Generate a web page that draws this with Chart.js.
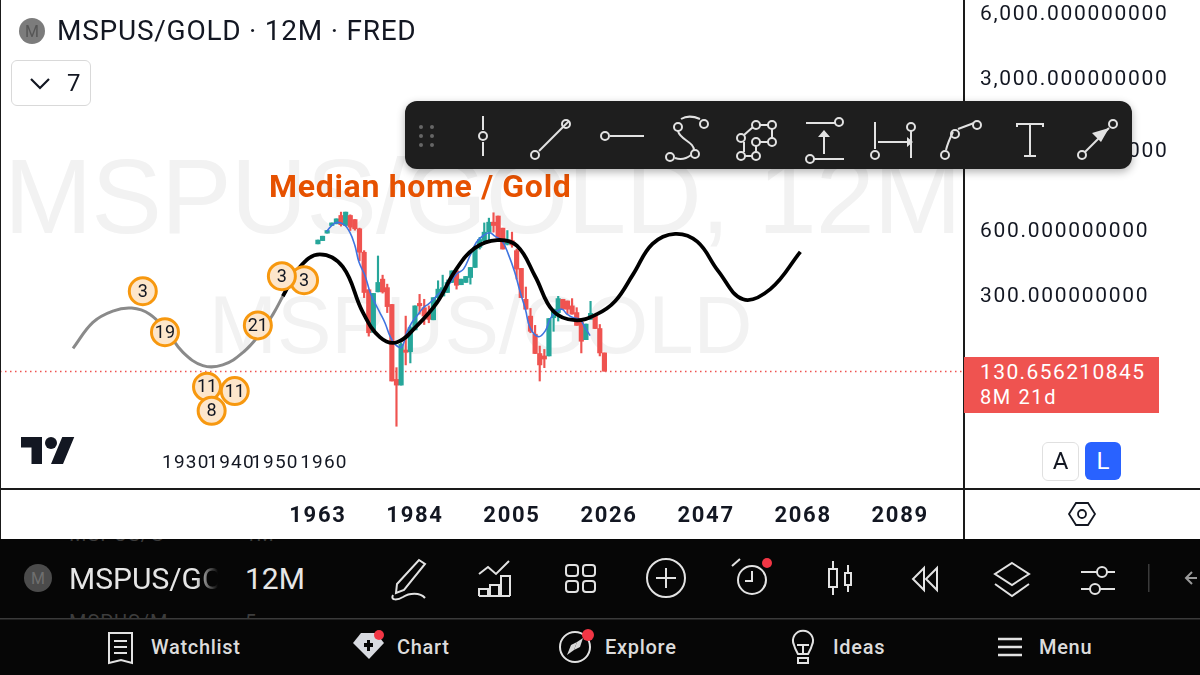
<!DOCTYPE html>
<html>
<head>
<meta charset="utf-8">
<title>MSPUS/GOLD</title>
<script src="https://cdn.jsdelivr.net/npm/chart.js@4"></script>
<style>
  html, body { margin: 0; padding: 0; background: #fff; }
  #page { position: relative; width: 1200px; height: 675px; overflow: hidden; font-family: Roboto, sans-serif; color: #131722; }
  #page > * { position: absolute; }
  canvas { left: 0; top: 0; }
  .mark { font-family: "Liberation Sans", sans-serif; color: #f2f2f2; white-space: nowrap; }
  .line { background: #1a1a1a; }
  #toolbar { left: 405px; top: 101px; width: 727px; height: 68px; background: #1e1e1e; border-radius: 12px; box-shadow: 0 3px 8px rgba(0,0,0,.3); }
  svg { position: absolute; overflow: visible; }
  .ic { fill: none; stroke: #e2e2e2; stroke-width: 2; }
  .dk { position: absolute; white-space: nowrap; color: #e6e6e6; }
  .tab { font-size: 20px; letter-spacing: .7px; top: 635px; font-weight: 500; color: #dcdcdc; }
</style>
</head>
<body>
<div id="page">
  <div class="mark" style="left:4px;top:126px;font-size:106px;line-height:140px;letter-spacing:-1px">MSPUS/GOLD, 12M</div>
  <div class="mark" style="left:209px;top:272px;font-size:81.5px;line-height:106px">MSPUS/GOLD</div>

  <canvas id="chart" width="1200" height="539" style="width:1200px;height:539px"></canvas>

  <div class="line" style="left:0;top:0;width:1px;height:539px"></div>
  <div class="line" style="left:963px;top:0;width:2px;height:539px"></div>
  <div class="line" style="left:0;top:488px;width:1200px;height:2px"></div>

  <svg style="left:21px;top:431px" width="54" height="42" viewBox="0 0 36 28"><path d="M14 22H7V11H0V4h14v18zM28 22h-8l7.5-18h8L28 22z" fill="#131722"/><circle cx="20" cy="8" r="4" fill="#131722"/></svg>

  <svg style="left:19px;top:18px" width="26" height="26"><circle cx="13" cy="13" r="13" fill="#7c7c7c"/><text x="13" y="19" text-anchor="middle" font-size="16" fill="#555">M</text></svg>
  <div style="left:57px;top:13px;font-size:28px;line-height:36px;letter-spacing:.75px;white-space:nowrap">MSPUS/GOLD · 12M · FRED</div>
  <div style="left:11px;top:60px;width:78px;height:44px;border:1px solid #d9d9d9;border-radius:6px"></div>
  <svg style="left:30px;top:78px" width="20" height="12"><path d="M1 1l9 9 9-9" fill="none" stroke="#131722" stroke-width="2.2"/></svg>
  <div style="left:67px;top:68px;font-size:24px;line-height:30px">7</div>

  <div style="left:269px;top:167px;font-size:32px;line-height:38px;font-weight:700;letter-spacing:.7px;color:#e65100;white-space:nowrap">Median home / Gold</div>

  <div style="left:964px;top:357px;width:195px;height:56px;background:#ef5350"></div>
  <div style="left:980px;top:359px;font-size:21px;line-height:26px;letter-spacing:1.4px;color:#fff">130.656210845</div>
  <div style="left:980px;top:384px;font-size:20px;line-height:26px;letter-spacing:1.6px;color:#fff">8M 21d</div>

  <div style="left:1042px;top:442px;width:35px;height:37px;border:1px solid #e0e0e0;border-radius:6px;text-align:center;font-size:24px;line-height:37px;box-sizing:content-box">A</div>
  <div style="left:1085px;top:442px;width:36px;height:38px;background:#2962ff;border-radius:6px;text-align:center;font-size:24px;line-height:38px;color:#fff">L</div>
  <svg style="left:1068px;top:501px" width="28" height="26"><path d="M8 2h12l7 11-7 11H8L1 13z M18 13a4 4 0 1 1-8 0 4 4 0 1 1 8 0" fill="none" stroke="#131722" stroke-width="1.8"/></svg>

  <div id="toolbar"></div>
  <svg style="left:405px;top:101px" width="727" height="68">
    <g fill="#666"><circle cx="16" cy="26" r="2"/><circle cx="27" cy="26" r="2"/><circle cx="16" cy="35" r="2"/><circle cx="27" cy="35" r="2"/><circle cx="16" cy="44" r="2"/><circle cx="27" cy="44" r="2"/></g>
    <g class="ic">
      <path d="M78 15v14M78 41v14"/><circle cx="78" cy="35" r="4"/>
      <path d="M134 50l30-30"/><circle cx="130" cy="54" r="4"/><circle cx="161" cy="23" r="4"/>
      <path d="M205 35h34"/><circle cx="200" cy="35" r="4"/>
      <path d="M276 18c5-3 12-3 19 0M273 30c2 9 17 11 16 20M270 57c6 2 11 1 16-3"/><circle cx="273" cy="26" r="4"/><circle cx="299" cy="23" r="4"/><circle cx="290" cy="53" r="4"/><circle cx="265" cy="56" r="4"/>
      <path d="M339 34l9-8M355 24h9M367 28v9M355 41h9M339 41v10M340 55h7M351 45v6"/><circle cx="336" cy="37" r="4"/><circle cx="351" cy="24" r="4"/><circle cx="367" cy="24" r="4"/><circle cx="351" cy="41" r="4"/><circle cx="367" cy="41" r="4"/><circle cx="336" cy="55" r="4"/><circle cx="351" cy="55" r="4"/>
      <path d="M401 22h29M409 58h30M419 53V32"/><circle cx="434" cy="21" r="4"/><circle cx="405" cy="58" r="4"/>
      <path d="M470 21v27M473 41h33M506 30v27"/><circle cx="470" cy="54" r="4"/><circle cx="506" cy="26" r="4"/>
      <path d="M541 49c2-8 5-14 7-18M553 28l16-6"/><circle cx="540" cy="54" r="4"/><circle cx="550" cy="33" r="4"/><circle cx="572" cy="24" r="4"/>
      <path d="M612 26v-3h26v3M625 23v32M619 55h12"/>
      <path d="M680 51l24-24"/><circle cx="677" cy="54" r="4"/><circle cx="708" cy="23" r="4"/>
    </g>
    <path d="M419 29l-6 7h12zM508 41l-6-5v10zM704 27l-17 5 9 9z" fill="#e2e2e2"/>
  </svg>

  <div style="left:0;top:539px;width:1200px;height:136px;background:#060606"></div>
  <div class="dk" style="left:69px;top:522px;height:24px;font-size:20px;color:#3d3d3d;letter-spacing:1px;overflow:hidden;clip-path:inset(17px 0 0 0)">MSPUS/G</div>
  <div class="dk" style="left:245px;top:522px;height:24px;font-size:20px;color:#3d3d3d;overflow:hidden;clip-path:inset(17px 0 0 0)">1M</div>
  <div class="dk" style="left:69px;top:610px;font-size:20px;color:#3d3d3d;letter-spacing:1px;height:8px;overflow:hidden">MSPUS/M</div>
  <div class="dk" style="left:245px;top:610px;font-size:20px;color:#3d3d3d;height:8px;overflow:hidden">5m</div>
  <svg style="left:0;top:539px" width="1200" height="136">
    <circle cx="38" cy="39" r="14" fill="#4b4b4b"/><text x="38" y="45" text-anchor="middle" font-size="16" fill="#6f6f6f">M</text>
    <rect x="0" y="79" width="1200" height="1.5" fill="#3a3a3a"/>
  </svg>
  <div class="dk" style="left:69px;top:561px;width:149px;overflow:hidden;font-size:30px;line-height:36px;-webkit-mask-image:linear-gradient(90deg,#000 85%,transparent)">MSPUS/GOLD</div>
  <div class="dk" style="left:245px;top:561px;font-size:30px;line-height:36px">12M</div>
  <svg style="left:0;top:539px" width="1200" height="136">
    <g class="ic">
      <path d="M419 21l6 4-21 26-8 3 1-9zM393 56c-3 6 5 5 10 2 6-4 17-5 22 1"/>
      <path d="M479 35l9-7 8 7 13-13M479 57v-7h9v7M490 57v-11h9v11M501 57v-20h9v20M479 57h31"/>
      <rect x="566" y="26" width="12" height="11" rx="3"/><rect x="583" y="26" width="12" height="11" rx="3"/><rect x="566" y="42" width="12" height="11" rx="3"/><rect x="583" y="42" width="12" height="11" rx="3"/>
      <circle cx="666" cy="39" r="19"/><path d="M666 29v20M656 39h20"/>
      <circle cx="752" cy="41" r="14"/><path d="M752 32v10h-7M732 27l8-7"/>
      <rect x="829" y="30" width="8" height="18"/><path d="M833 22v8M833 48v8"/><rect x="845" y="34" width="6" height="12"/><path d="M848 26v8M848 46v7"/>
      <path d="M924 29l-11 11 11 11zM937 29l-11 11 11 11z"/>
      <path d="M1012 24l17 11-17 11-17-11zM995 45l17 12 17-12"/>
      <path d="M1081 33h16M1107 33h8M1081 50h9M1100 50h15"/><circle cx="1102" cy="33" r="5"/><circle cx="1095" cy="50" r="5"/>
    </g>
    <circle cx="767" cy="24" r="5" fill="#f23645"/>
    <rect x="1148" y="25" width="1.5" height="28" fill="#3a3a3a"/>
    <path d="M1197 39h-10M1192 33l-6 6 6 6" fill="none" stroke="#9a9a9a" stroke-width="2"/>
    <g class="ic">
      <path d="M109 94h23v30l-11-3-12 3zM114 102h13M114 108h13M114 114h13"/>
      <path d="M998 100h24M998 108h24M998 116h24" stroke-width="2.5"/>
      <circle cx="575" cy="108" r="15"/>
      <path d="M794 106a10 10 0 1 1 18 0c-1 4-3 7-4 9h-10c-1-2-3-5-4-9zM797 106h12M803 106v8M798 119h10v5h-10z"/>
    </g>
    <path d="M353 104l8-10h15l8 10-15 16z" fill="#d8dae0"/><path d="M367 101h3v3h3v4h-3v4h-3v-4h-3v-4h3z" fill="#060606"/>
    <circle cx="379" cy="96" r="5" fill="#f23645"/>
    <path d="M567 116l4-10 6-3-3 8z" fill="#d8d8d8"/><path d="M574 111l3-8 6-4-3 9z" fill="#d8d8d8"/>
    <circle cx="588" cy="96" r="6" fill="#f23645"/>
  </svg>
  <div class="dk tab" style="left:151px">Watchlist</div>
  <div class="dk tab" style="left:397px">Chart</div>
  <div class="dk tab" style="left:605px">Explore</div>
  <div class="dk tab" style="left:833px">Ideas</div>
  <div class="dk tab" style="left:1039px">Menu</div>
</div>

<script>
const CANDLE_UP = "#26a69a";
const CANDLE_DOWN = "#ef5350";

// yearly candles
const candleYears = [1963,1964,1965,1966,1967,1968,1969,1970,1971,1972,1973,1974,1975,1976,1977,1978,1979,1980,1981,1982,1983,1984,1985,1986,1987,1988,1989,1990,1991,1992,1993,1994,1995,1996,1997,1998,1999,2000,2001,2002,2003,2004,2005,2006,2007,2008,2009,2010,2011,2012,2013,2014,2015,2016,2017,2018,2019,2020,2021,2022,2023,2024,2025];
const candleOpen  = [506,524,567,615,626,684,615,684,655,594,463,311,198,304,348,318,266,120,113,164,161,203,269,257,244,226,286,291,302,336,380,328,336,354,394,488,524,573,637,680,598,504,524,471,390,281,235,194,158,154,154,231,244,281,276,262,244,220,183,227,239,206,159];
const candleClose = [527,549,583,632,660,620,709,604,594,463,302,197,299,336,304,260,118,113,174,160,208,262,262,235,227,286,313,318,336,380,326,348,358,394,488,530,573,637,615,537,479,524,500,387,286,253,200,158,140,149,229,253,283,253,253,240,213,180,216,242,206,159,131];
const candleHigh  = [527,549,583,632,660,709,709,689,655,598,471,311,299,445,363,330,266,136,177,235,212,262,296,281,262,286,342,363,345,380,380,348,358,394,488,542,632,665,704,680,598,583,573,479,390,320,255,213,171,165,229,253,290,281,276,283,257,227,216,275,239,215,159];
const candleLow   = [506,524,567,615,626,611,615,583,585,423,286,190,198,304,300,244,118,73,113,140,143,203,240,215,219,226,281,291,302,336,313,328,336,330,394,479,518,528,573,537,479,500,488,348,286,253,197,158,118,136,154,200,223,253,240,240,213,159,183,227,206,154,131];

// moving average
const smaYears  = [1964.9,1966.7,1968.5,1969.9,1971,1971.9,1973.2,1974.3,1975.3,1976.4,1977.5,1978.6,1979.7,1981.1,1982.2,1983.3,1984.4,1985.8,1986.9,1988,1989.4,1990.8,1993,1994.5,1995.9,1997.3,1998.8,2000.2,2001.3,2002.8,2004.2,2005.6,2006.8,2007.9,2008.9,2010.7,2012.2,2013.2,2014.3,2015.8,2016.9,2018.3,2019.7,2020.8,2021.9];
const smaValues = [578,632,624,573,497,416,361,302,271,244,219,190,174,169,197,219,235,257,267,281,302,318,367,387,446,515,553,569,549,524,454,374,302,253,208,189,201,227,244,253,240,231,227,208,191];

// hand drawn path, grey part then black part
const greyYears  = [1910,1914.3,1918.6,1922.7,1926.6,1930.3,1933.8,1938.1,1942.4,1946.8,1950.4,1953.3,1955.4];
const greyValues = [167,220,248,256,240,200,160,139,140,160,194,240,290];
const pathYears  = [1955.4,1959.1,1963.4,1968.4,1972.7,1976.4,1980.1,1984.4,1988.8,1992.7,1997,2001.8,2006.1,2010,2013.9,2018.6,2023.4,2027.3,2031.2,2035.4,2040.3,2045.1,2049.6,2055,2060.9,2067.4];
const pathValues = [290,396,453,396,245,188,178,212,272,380,485,527,495,359,248,225,240,275,366,506,563,518,380,281,313,465];

// numbered circles and the year notes under them
const markerYears  = [1925.1,1929.9,1950,1960,1955.2,1945,1939,1940];
const markerValues = [306,198,213,344,359,106,111,86];
const markerLabels = ["3","19","21","3","3","11","11","8"];
const noteYears  = [1934.4,1944.2,1953.7,1964.3];
const noteLabels = ["1930","1940","1950","1960"];
const NOTE_VALUE = 49.5;

const xTicks = [1963,1984,2005,2026,2047,2068,2089];
const yTicks = [6000,3000,1400,600,300];
const LAST_PRICE = 130.656210845;
const X_MIN = 1894.2, X_MAX = 2102.6, Y_MIN = 37.5, Y_MAX = 6738;

function candleColor(i) {
  return candleClose[i] >= candleOpen[i] ? CANDLE_UP : CANDLE_DOWN;
}

// scales ask for room for their end labels even with autoPadding off
function noPadding(s) {
  s.paddingTop = 0;
  s.paddingBottom = 0;
  s.paddingLeft = 0;
  s.paddingRight = 0;
}

const chartTexts = {
  id: "chartTexts",
  beforeDraw(chart) {
    chart.ctx.letterSpacing = "1.7px";
  },
  afterDatasetsDraw(chart) {
    const ctx = chart.ctx;
    const x = chart.scales.x, y = chart.scales.y;
    ctx.save();
    ctx.letterSpacing = "0px";
    ctx.textAlign = "center";
    ctx.textBaseline = "middle";
    ctx.fillStyle = "#131722";
    ctx.font = "18px Roboto";
    markerLabels.forEach((label, i) => {
      ctx.fillText(label, x.getPixelForValue(markerYears[i]), y.getPixelForValue(markerValues[i]) + 1);
    });
    ctx.font = "19px Roboto";
    ctx.letterSpacing = "1.2px";
    noteLabels.forEach((label, i) => {
      ctx.fillText(label, x.getPixelForValue(noteYears[i]), y.getPixelForValue(NOTE_VALUE));
    });
    ctx.restore();
  }
};

new Chart(document.getElementById("chart"), {
  data: {
    datasets: [
      {
        type: "line",
        data: [{ x: X_MIN, y: LAST_PRICE }, { x: X_MAX, y: LAST_PRICE }],
        borderColor: CANDLE_DOWN, borderWidth: 1.5, borderDash: [1.5, 3.5], pointRadius: 0, order: 9
      },
      {
        type: "bar",
        data: candleYears.map((yr, i) => ({ x: yr, y: [candleLow[i], candleHigh[i]] })),
        backgroundColor: candleYears.map((_, i) => candleColor(i)),
        barThickness: 1.5, grouped: false, order: 8
      },
      {
        type: "bar",
        data: candleYears.map((yr, i) => ({ x: yr, y: [candleOpen[i], candleClose[i]] })),
        backgroundColor: candleYears.map((_, i) => candleColor(i)),
        barThickness: 4.5, grouped: false, order: 7
      },
      {
        type: "line",
        data: smaYears.map((yr, i) => ({ x: yr, y: smaValues[i] })),
        borderColor: "#3f74e0", borderWidth: 1.6, pointRadius: 0, tension: 0.4, order: 6
      },
      {
        type: "line",
        data: greyYears.map((yr, i) => ({ x: yr, y: greyValues[i] })),
        borderColor: "#8a8a8a", borderWidth: 3, pointRadius: 0, tension: 0.4, order: 5
      },
      {
        type: "line",
        data: pathYears.map((yr, i) => ({ x: yr, y: pathValues[i] })),
        borderColor: "#000", borderWidth: 3.8, pointRadius: 0, tension: 0.4, order: 4
      },
      {
        type: "scatter",
        data: markerYears.map((yr, i) => ({ x: yr, y: markerValues[i] })),
        backgroundColor: "#fde6cb", borderColor: "#f7980f", borderWidth: 3, pointRadius: 13.5, order: 3
      }
    ]
  },
  plugins: [chartTexts],
  options: {
    responsive: false,
    animation: false,
    layout: { padding: 0, autoPadding: false },
    plugins: { legend: { display: false }, tooltip: { enabled: false } },
    scales: {
      x: {
        type: "linear", min: X_MIN, max: X_MAX, offset: false,
        grid: { display: false }, border: { display: false },
        afterFit: s => { s.height = 50; noPadding(s); },
        afterBuildTicks: s => { s.ticks = xTicks.map(v => ({ value: v })); },
        ticks: {
          autoSkip: false, maxRotation: 0, padding: 6, color: "#131722",
          font: { family: "Roboto", size: 22, weight: "bold" },
          callback: v => String(v)
        }
      },
      y: {
        type: "logarithmic", position: "right", min: Y_MIN, max: Y_MAX,
        grid: { display: false }, border: { display: false },
        afterFit: s => { s.width = 237; noPadding(s); },
        afterBuildTicks: s => { s.ticks = yTicks.map(v => ({ value: v })); },
        ticks: {
          autoSkip: false, padding: 9, labelOffset: 3.5, color: "#131722",
          font: { family: "Roboto", size: 21 },
          callback: v => v.toLocaleString("en-US", { minimumFractionDigits: 9, maximumFractionDigits: 9 })
        }
      }
    }
  }
});
</script>
</body>
</html>
